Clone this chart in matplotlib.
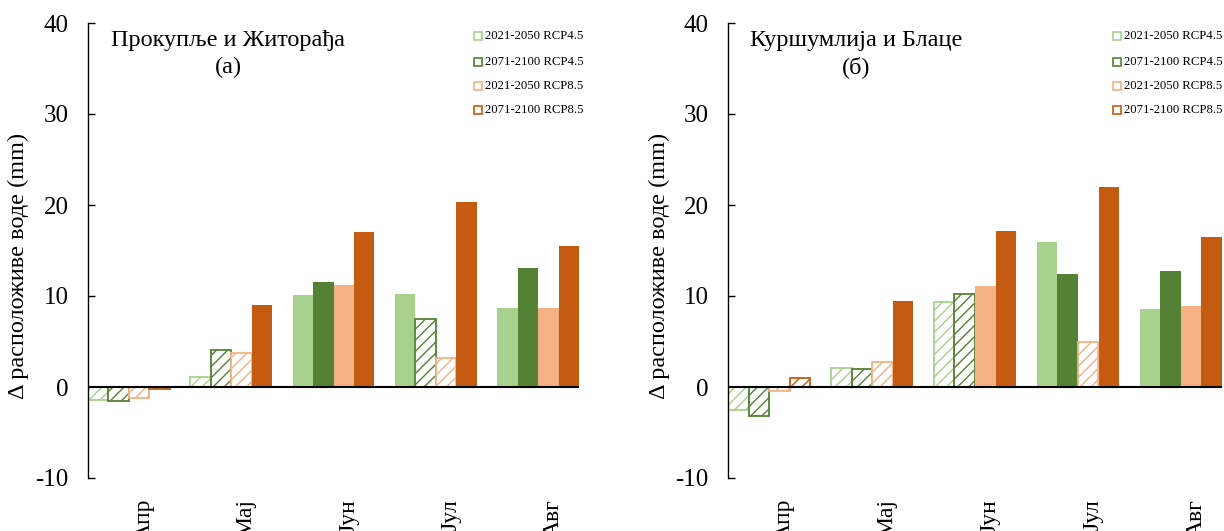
import matplotlib
matplotlib.use('Agg')
import matplotlib.pyplot as plt
import numpy as np
from matplotlib.transforms import ScaledTranslation
from matplotlib.lines import Line2D

plt.rcParams['font.family'] = ['Liberation Serif', 'DejaVu Serif']
plt.rcParams['hatch.linewidth'] = 1.0
plt.rcParams['axes.unicode_minus'] = False

months = ['Апр', 'Мај', 'Јун', 'Јул', 'Авг']
series = ['2021-2050 RCP4.5', '2071-2100 RCP4.5', '2021-2050 RCP8.5', '2071-2100 RCP8.5']
colors = ['#A9D18E', '#548235', '#F4B183', '#C55A11']

# (a) Прокупље и Житорађа
left_vals = [
    [-1.4, 1.1, 10.1, 10.2, 8.7],
    [-1.5, 4.1, 11.5, 7.5, 13.1],
    [-1.2, 3.7, 11.2, 3.2, 8.7],
    [-0.2, 9.0, 17.0, 20.3, 15.5],
]
left_hatched = [
    [1, 1, 0, 0, 0],
    [1, 1, 0, 1, 0],
    [1, 1, 0, 1, 0],
    [1, 0, 0, 0, 0],
]
# (б) Куршумлија и Блаце
right_vals = [
    [-2.5, 2.1, 9.3, 15.9, 8.6],
    [-3.2, 2.0, 10.2, 12.4, 12.8],
    [-0.4, 2.8, 11.1, 5.0, 8.9],
    [1.0, 9.4, 17.1, 22.0, 16.5],
]
right_hatched = [
    [1, 1, 1, 0, 0],
    [1, 1, 1, 0, 0],
    [1, 1, 0, 1, 0],
    [1, 0, 0, 0, 0],
]
yticks = [-10, 0, 10, 20, 30, 40]
ylabel = 'Δ расположиве воде (mm)'
titles = [('Прокупље и Житорађа', '(а)'), ('Куршумлија и Блаце', '(б)')]

W, H = 1224, 531
fig = plt.figure(figsize=(W / 100, H / 100), dpi=100)


def px_axes(x0, x1, ytop, ybot):
    return fig.add_axes([x0 / W, 1 - ybot / H, (x1 - x0) / W, (ybot - ytop) / H])


def panel(ax, vals, hatched, title, title_xpx):
    x = np.arange(len(months))
    w = 0.2
    for j, (v, hs, c) in enumerate(zip(vals, hatched, colors)):
        pos = x + (j - 1.5) * w
        for xi, vi, hi in zip(pos, v, hs):
            if hi:
                ax.bar(xi, vi, w, facecolor='white', edgecolor=c, hatch='///',
                       linewidth=1.3, zorder=2)
            else:
                ax.bar(xi, vi, w, color=c, linewidth=0, zorder=2)
    ax.axhline(0, color='black', linewidth=1.5, zorder=3)
    ax.set_xlim(-0.4, len(months) - 0.6)
    ax.set_ylim(yticks[0], yticks[-1])
    ax.set_yticks(yticks)
    ax.set_xticks(x)
    ax.set_xticklabels(months, rotation=90, fontsize=17)
    for spine in ['top', 'right', 'bottom']:
        ax.spines[spine].set_visible(False)
    ax.spines['left'].set_linewidth(1.0)
    ax.tick_params(axis='y', direction='in', length=5, width=1.0, pad=14, labelsize=18)
    ax.tick_params(axis='x', length=0, pad=15)
    off = ScaledTranslation(0.15, 0, fig.dpi_scale_trans)
    for lab in ax.get_xticklabels():
        lab.set_transform(lab.get_transform() + off)
    fig.text(title_xpx / W, 1 - 46 / H, title[0], ha='center', va='baseline', fontsize=17.5)
    fig.text(title_xpx / W, 1 - 73 / H, title[1], ha='center', va='baseline', fontsize=17.5)


axL = px_axes(88, 579, 23, 478)
axR = px_axes(728, 1222, 23, 478)
panel(axL, left_vals, left_hatched, titles[0], 228)
panel(axR, right_vals, right_hatched, titles[1], 856)

for xl in [18, 659]:
    fig.text(xl / W, 1 - 266 / H, ylabel, rotation=90, ha='center', va='center', fontsize=17.5)

rows = [36, 62, 86, 110]
for mx in [478, 1117]:
    for name, c, ry in zip(series, colors, rows):
        fig.add_artist(Line2D([mx / W], [1 - ry / H], marker='s', markersize=6,
                              markerfacecolor='none', markeredgecolor=c,
                              markeredgewidth=1.2, transform=fig.transFigure))
        fig.text((mx + 7) / W, 1 - ry / H, name, ha='left', va='center', fontsize=9.2)

fig.savefig('out.png', dpi=100)
